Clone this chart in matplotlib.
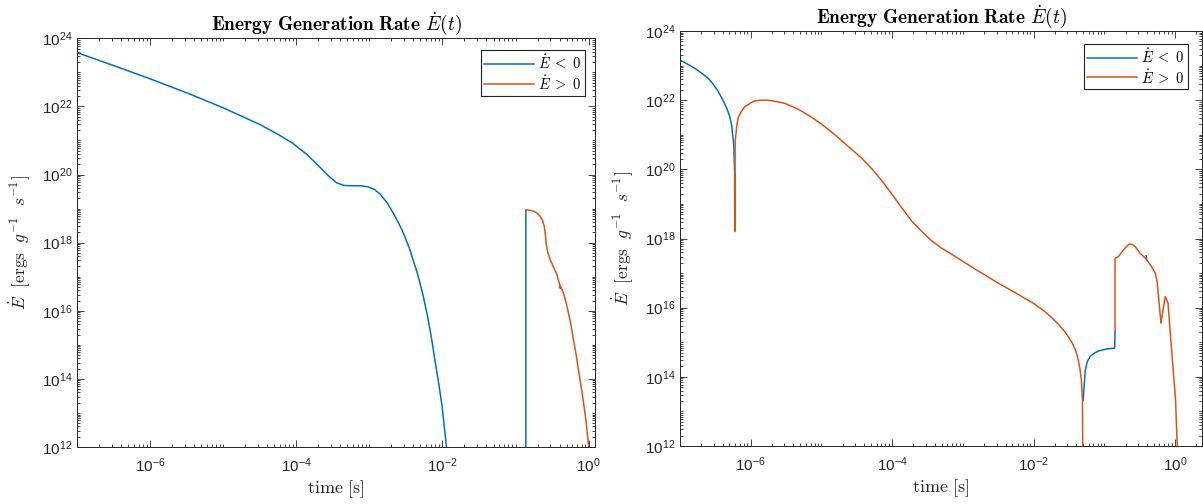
import numpy as np
import matplotlib
matplotlib.use("Agg")
import matplotlib.pyplot as plt
from matplotlib.ticker import FixedLocator, LogLocator, FuncFormatter, NullFormatter
from matplotlib.font_manager import FontProperties

plt.rcParams['font.family'] = ['Liberation Sans', 'DejaVu Sans']

BLUE = '#0072BD'
ORANGE = '#D95319'
AXCOL = '#262626'

# log10(time [s]) and log10(|Edot| [erg/g/s]); nan splits a series into pieces
left_neg_logt = [-7.00, -6.50, -6.00, -5.50, -5.00, -4.50, -4.25, -4.05, -3.85, -3.68,
                 -3.55, -3.45, -3.35, -3.25, -3.12, -3.02, -2.93, -2.85, -2.75, -2.65,
                 -2.55, -2.45, -2.345, -2.27, -2.21, -2.15, -2.10, -2.05, -2.005, -1.95,
                 -1.92, np.nan, -0.859, -0.859]
left_neg_logE = [23.58, 23.20, 22.81, 22.40, 21.96, 21.47, 21.18, 20.92, 20.58, 20.22,
                 19.94, 19.76, 19.68, 19.67, 19.67, 19.64, 19.56, 19.42, 19.15, 18.78,
                 18.36, 17.82, 17.11, 16.50, 15.90, 15.20, 14.50, 13.85, 13.20, 12.10,
                 11.50, np.nan, 11.00, 18.96]

left_pos_logt = [-0.859, -0.80, -0.753, -0.70, -0.662, -0.63, -0.607, -0.59, -0.58, -0.56,
                 -0.525, -0.48, -0.434, -0.40, -0.39, -0.385, -0.344, -0.31, -0.276, -0.24,
                 -0.208, -0.17, -0.14, -0.10, -0.07, -0.035, -0.003, 0.01]
left_pos_logE = [18.96, 18.95, 18.92, 18.86, 18.77, 18.65, 18.48, 18.20, 17.95, 17.72,
                 17.50, 17.28, 17.06, 16.80, 16.66, 16.72, 16.52, 16.25, 15.94, 15.56,
                 15.15, 14.70, 14.27, 13.74, 13.30, 12.75, 12.07, 11.50]

right_neg_logt = [-7.00, -6.90, -6.79, -6.70, -6.60, -6.53, -6.46, -6.40, -6.34, -6.30,
                  -6.27, -6.24, -6.226, np.nan,
                  -1.30, -1.27, -1.24, -1.20, -1.14, -1.08, -0.96, -0.855, -0.85, np.nan,
                  -0.41, -0.40]
right_neg_logE = [23.16, 23.05, 22.92, 22.79, 22.63, 22.46, 22.25, 22.03, 21.77, 21.55,
                  21.28, 20.71, 19.84, np.nan,
                  13.33, 14.20, 14.45, 14.59, 14.69, 14.75, 14.81, 14.83, 15.31, np.nan,
                  17.50, 17.36]

right_pos_logt = [-6.228, -6.226, -6.22, -6.20, -6.18, -6.14, -6.085, -6.00, -5.94, -5.85,
                  -5.755, -5.64, -5.52, -5.33, -5.15, -5.00, -4.81, -4.62, -4.43, -4.29,
                  -4.15, -4.01, -3.87, -3.73, -3.58, -3.44, -3.30, -3.11, -2.925, -2.735,
                  -2.50, -2.25, -2.00, -1.85, -1.75, -1.65, -1.57, -1.50, -1.44, -1.40,
                  -1.37, -1.345, -1.325, -1.31, -1.305, np.nan,
                  -0.85, -0.85, -0.80, -0.73, -0.68, -0.637, -0.60, -0.566, -0.495, -0.42,
                  -0.35, -0.28, -0.255, -0.235, -0.20, -0.17, -0.14, -0.10, -0.065, -0.027,
                  0.006, 0.03, 0.04]
right_pos_logE = [19.84, 18.20, 20.80, 21.20, 21.48, 21.65, 21.81, 21.92, 21.98, 22.00,
                  22.00, 21.96, 21.91, 21.74, 21.52, 21.31, 21.00, 20.66, 20.32, 20.02,
                  19.68, 19.30, 18.90, 18.52, 18.20, 17.93, 17.72, 17.48, 17.24, 17.00,
                  16.71, 16.42, 16.12, 15.90, 15.72, 15.52, 15.33, 15.13, 14.92, 14.72,
                  14.50, 14.22, 13.90, 13.33, 11.50, np.nan,
                  15.31, 17.43, 17.48, 17.67, 17.79, 17.84, 17.82, 17.77, 17.57, 17.43,
                  17.24, 17.00, 16.75, 16.32, 15.55, 15.94, 16.32, 16.13, 15.16, 14.20,
                  13.33, 12.00, 11.50]

xticks = [1e-6, 1e-4, 1e-2, 1e0]
yticks = [1e12, 1e14, 1e16, 1e18, 1e20, 1e22, 1e24]

cm = dict(math_fontfamily='cm')


def pow10(a):
    return np.power(10.0, np.asarray(a, dtype=float))


def style(ax, xmax):
    ax.set_xscale('log')
    ax.set_yscale('log')
    ax.set_xlim(1e-7, xmax)
    ax.set_ylim(1e12, 1e24)
    ax.xaxis.set_major_locator(FixedLocator(xticks))
    ax.yaxis.set_major_locator(FixedLocator(yticks))
    ax.xaxis.set_minor_locator(LogLocator(base=10, subs=np.arange(1, 10), numticks=200))
    ax.yaxis.set_minor_locator(LogLocator(base=10, subs=np.arange(1, 10), numticks=200))
    fmt = FuncFormatter(lambda v, p: r'$\mathdefault{10^{%d}}$' % round(np.log10(v)))
    ax.xaxis.set_major_formatter(fmt)
    ax.yaxis.set_major_formatter(fmt)
    ax.xaxis.set_minor_formatter(NullFormatter())
    ax.yaxis.set_minor_formatter(NullFormatter())
    ax.tick_params(which='both', direction='in', top=True, right=True,
                   color=AXCOL, width=0.6, labelcolor=AXCOL, labelsize=11)
    ax.tick_params(which='major', length=5)
    ax.tick_params(which='minor', length=2.5)
    ax.tick_params(axis='x', pad=7)
    for s in ax.spines.values():
        s.set_color(AXCOL)
        s.set_linewidth(0.7)

    ax.set_title(r'$\mathbf{Energy\ Generation\ Rate}\ \dot{E}(t)$', fontsize=14, pad=6, **cm)
    ax.set_xlabel(r'$\mathrm{time\ [s]}$', fontsize=13, color=AXCOL, labelpad=2, **cm)
    ax.set_ylabel(r'$\dot{E}\ \ \mathrm{[ergs}\ \ g^{-1}\ \ s^{-1}\mathrm{]}$', fontsize=12.5,
                  color=AXCOL, labelpad=7, **cm)


def draw(ax, neg_t, neg_E, pos_t, pos_E, xmax, anchor):
    ax.plot(pow10(neg_t), pow10(neg_E), color=BLUE, lw=1.1, label=r'$\dot{E}\;<\;0$')
    ax.plot(pow10(pos_t), pow10(pos_E), color=ORANGE, lw=1.1, label=r'$\dot{E}\;>\;0$')
    style(ax, xmax)
    leg = ax.legend(loc='upper right', bbox_to_anchor=anchor, borderaxespad=0,
                    prop=FontProperties(size=10.5, math_fontfamily='cm'),
                    handlelength=3.4, handletextpad=0.3, borderpad=0.25,
                    labelspacing=0.1, fancybox=False, framealpha=1)
    leg.get_frame().set_edgecolor('#222222')
    leg.get_frame().set_linewidth(0.8)


fig = plt.figure(figsize=(12.03, 5.04), dpi=100)
ax1 = fig.add_axes([77 / 1203, 57 / 504, 518 / 1203, 408.7 / 504])
ax2 = fig.add_axes([680 / 1203, 58 / 504, 522 / 1203, 415 / 504])

draw(ax1, left_neg_logt, left_neg_logE, left_pos_logt, left_pos_logE,
     10 ** 0.087, (1 - 10 / 518, 1 - 12 / 408.7))
draw(ax2, right_neg_logt, right_neg_logE, right_pos_logt, right_pos_logE,
     10 ** 0.38, (1 - 14 / 522, 1 - 13 / 415))

fig.savefig('out.png', dpi=100)
